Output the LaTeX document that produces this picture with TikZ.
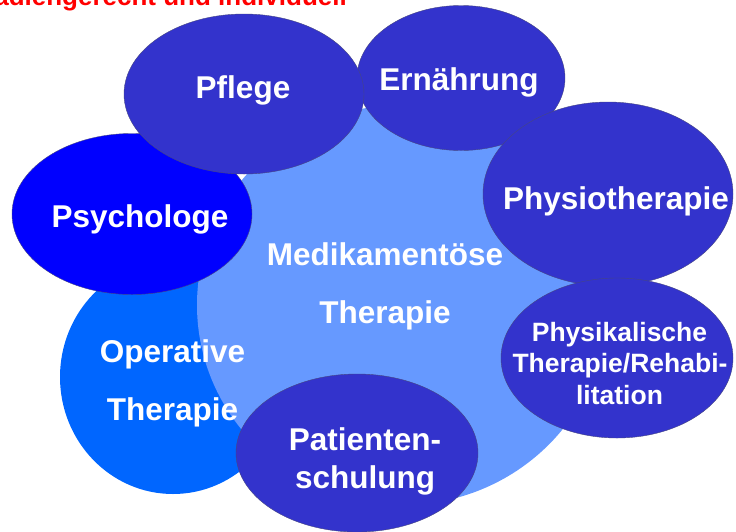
\documentclass[tikz,border=0pt]{standalone}
\usepackage{fontspec}
\setmainfont{Liberation Sans}
\usetikzlibrary{calc}

\definecolor{therapyblue}{RGB}{51,51,204}
\definecolor{psychblue}{RGB}{0,0,255}
\definecolor{opblue}{RGB}{0,102,255}
\definecolor{medblue}{RGB}{102,153,255}
\definecolor{rimgray}{RGB}{70,70,130}

\begin{document}
\begin{tikzpicture}[x=1pt, y=-1pt,
    bubble/.style={fill=therapyblue, draw=rimgray, line width=0.4pt},
    word/.style={text=white, inner sep=0pt, anchor=base, font=\bfseries\fontsize{31.5}{36}\selectfont},
    smallword/.style={word, font=\bfseries\fontsize{26.5}{31}\selectfont}]
          \useasboundingbox (0,0) rectangle (736,531);
          \clip (0,0) rectangle (736,531);

          % headline, only its lower part is left on the page
          \node[text=red, inner sep=0pt, anchor=base west, font=\bfseries\fontsize{26}{30}\selectfont] (headline) at (-29,5) {stadiengerecht und individuell};

          % back to front
          \fill[opblue] (173,377) ellipse (113pt and 117pt);
          \fill[medblue] (402,305) ellipse (205pt and 200pt);
          \filldraw[bubble, fill=psychblue] (132,214) ellipse (120pt and 80.5pt);
          \filldraw[bubble] (461,78) ellipse (104pt and 72.5pt);
          \filldraw[bubble] (244,94) ellipse (120pt and 80pt);
          \filldraw[bubble] (608,194) ellipse (125pt and 92pt);
          \filldraw[bubble] (617,358) ellipse (116pt and 80pt);
          %\filldraw[bubble] (357,460) ellipse (130pt and 75pt);
          \filldraw[bubble] (357,453) ellipse (121pt and 79pt);

          \node[word] (medA) at (385,265) {Medikamentöse};
          \node[word] (medB) at (385,323) {Therapie};

          \node[word] (opA) at (172.5,362) {Operative};
          \node[word] (opB) at (172.5,420) {Therapie};

          \node[word] (psych) at (140,227) {Psychologe};
          \node[word] (pflege) at (243,98) {Pflege};
          \node[word] (ern) at (459,90) {Ernährung};
          \node[word] (physio) at (616,209) {Physiotherapie};

          \node[smallword] (phkA) at (619.5,341) {Physikalische};
          \node[smallword] (phkB) at (620,372) {Therapie/Rehabi-};
          \node[smallword] (phkC) at (619.5,404) {litation};

          \node[word] (patA) at (365,450) {Patienten-};
          \node[word] (patB) at (365,488) {schulung};

        \end{tikzpicture}
\end{document}
